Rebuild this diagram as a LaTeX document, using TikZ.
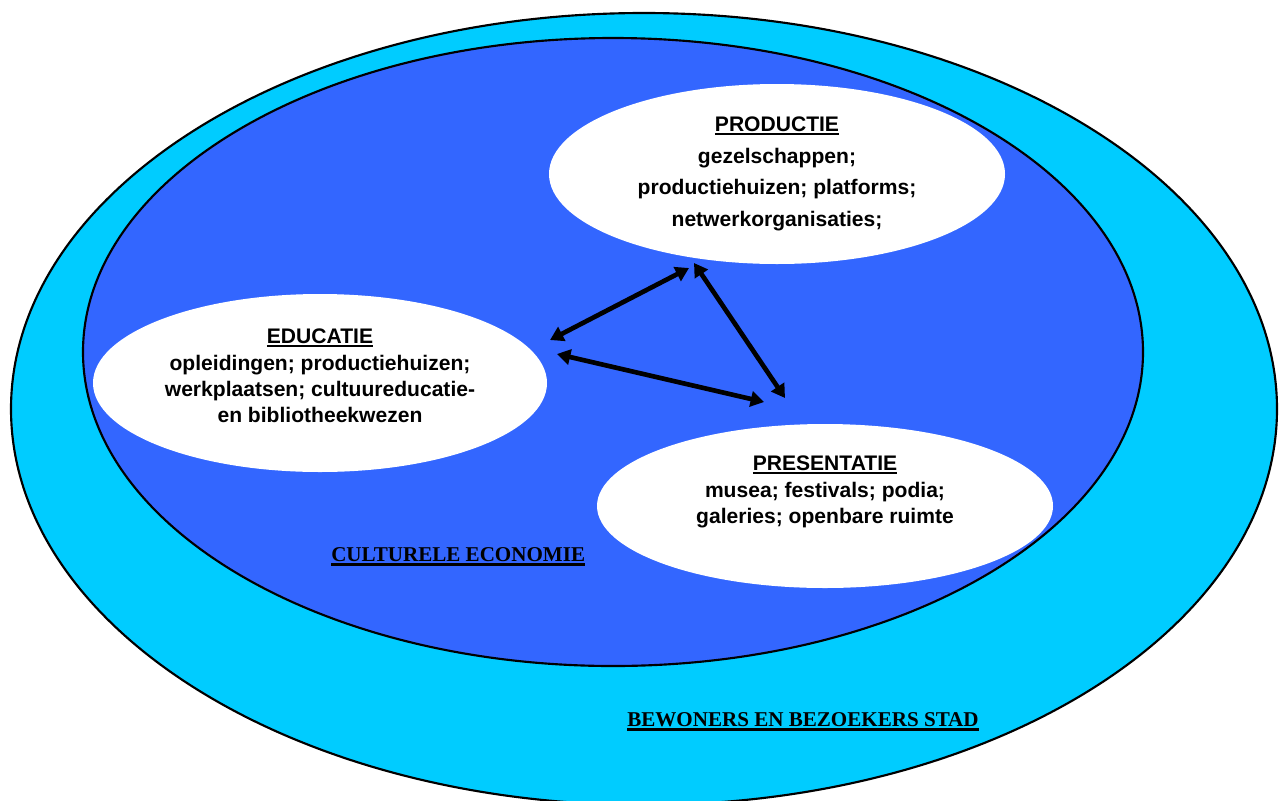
\documentclass[tikz,border=0pt]{standalone}
\usepackage{fontspec}
\setmainfont{Liberation Sans}
\newfontfamily\timesfont{Liberation Serif}
\usetikzlibrary{arrows.meta, shapes.geometric}
\definecolor{cyan1}{RGB}{0,204,255}
\definecolor{blue1}{RGB}{51,102,255}
\newcommand{\undl}[2][2.6pt]{\setbox0=\hbox{#2}\rlap{\rule[-#1]{\wd0}{1.7pt}}\box0}

\begin{document}
\begin{tikzpicture}[x=0.75pt,y=-0.75pt,>={Triangle[length=10pt,width=11.5pt]},
                    line join=round]
        \tikzstyle{bubble}=[ellipse,fill=white,draw=none,inner sep=0pt]
        \tikzstyle{bubble text}=[align=center,inner sep=0pt,font=\bfseries\fontsize{15.8}{19.8}\selectfont]
        \tikzstyle{area label}=[anchor=base west,inner sep=0pt,font=\timesfont\bfseries\fontsize{15.8}{19}\selectfont]
        \tikzstyle{link}=[<->,line width=3.5pt]

        \useasboundingbox (0,0) rectangle (1280,800);
        \fill[white] (0,0) rectangle (1280,800);
        \clip (0,0) rectangle (1280,800);

        % outer and inner field
        \draw[fill=cyan1,line width=1.6pt] (644,409) ellipse [x radius=474.75pt,y radius=297pt];
        \draw[fill=blue1,line width=1.6pt] (613,352) ellipse [x radius=397.5pt,y radius=235.5pt];

        \node[bubble,minimum width=342pt,minimum height=135pt]   (prod) at (777,174) {};
        \node[bubble,minimum width=340.5pt,minimum height=133.5pt] (educ) at (320,383) {};
        \node[bubble,minimum width=342pt,minimum height=123pt]   (pres) at (825,506) {};

        \node[bubble text,font=\bfseries\fontsize{15.8}{23.6}\selectfont] (prod-t) at (777,174)
            {\undl{PRODUCTIE}\\ gezelschappen;\\ productiehuizen; platforms;\\ netwerkorganisaties;};
        \node[bubble text] (educ-t) at (320,376)
            {\undl{EDUCATIE}\\ opleidingen; productiehuizen;\\ werkplaatsen; cultuureducatie-\\ en bibliotheekwezen};
        \node[bubble text] (pres-t) at (825,492)
            {\undl{PRESENTATIE}\\ musea; festivals; podia;\\ galeries; openbare ruimte};

        \node[area label] (econ) at (331,561) {\undl[3.5pt]{CULTURELE ECONOMIE}};
        \node[area label] (city) at (627,726) {\undl[3.5pt]{BEWONERS EN BEZOEKERS STAD}};

        % arrow ends
        \coordinate (educ-a) at (550,340);
        \coordinate (prod-a) at (689,268);
        \coordinate (prod-b) at (694,263);
        \coordinate (pres-b) at (785,398);
        \coordinate (educ-c) at (557,354);
        \coordinate (pres-c) at (764,402);

        \draw[link] (educ-a) -- (prod-a);
        \draw[link] (prod-b) -- (pres-b);
        \draw[link] (educ-c) -- (pres-c);
\end{tikzpicture}
\end{document}
